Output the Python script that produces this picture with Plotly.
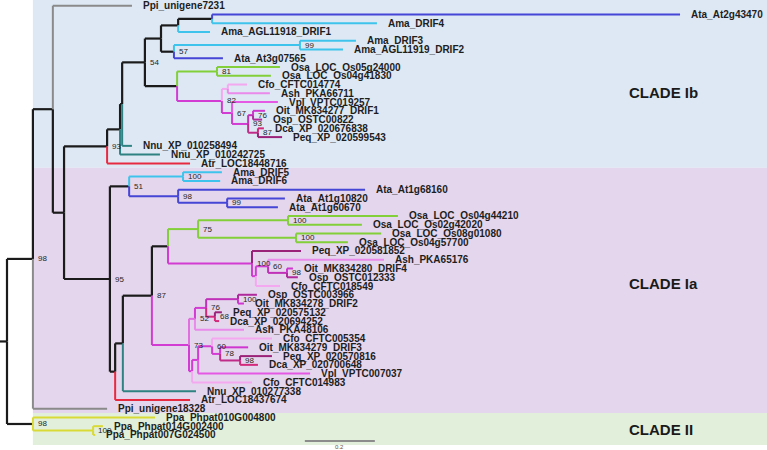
import plotly.graph_objects as go

# ---------------- DATA ----------------
# leaves, top to bottom
leaves = [
    "Ppi_unigene7231", "Ata_At2g43470", "Ama_DRIF4", "Ama_AGL11918_DRIF1", "Ama_DRIF3",
    "Ama_AGL11919_DRIF2", "Ata_At3g07565", "Osa_LOC_Os05g24000", "Osa_LOC_Os04g41830",
    "Cfo_CFTC014774", "Ash_PKA66711", "Vpl_VPTC019257", "Oit_MK834277_DRIF1", "Osp_OSTC00822",
    "Dca_XP_020676838", "Peq_XP_020599543", "Nnu_XP_010258494", "Nnu_XP_010242725",
    "Atr_LOC18448716",
    "Ama_DRIF5", "Ama_DRIF6", "Ata_At1g68160", "Ata_At1g10820", "Ata_At1g60670",
    "Osa_LOC_Os04g44210", "Osa_LOC_Os02g42020", "Osa_LOC_Os08g01080", "Osa_LOC_Os04g57700",
    "Peq_XP_020581852", "Ash_PKA65176", "Oit_MK834280_DRIF4", "Osp_OSTC012333",
    "Cfo_CFTC018549", "Osp_OSTC003966", "Oit_MK834278_DRIF2", "Peq_XP_020575132",
    "Dca_XP_020694252", "Ash_PKA48106", "Cfo_CFTC005354", "Oit_MK834279_DRIF3",
    "Peq_XP_020570816", "Dca_XP_020700648", "Vpl_VPTC007037", "Cfo_CFTC014983",
    "Nnu_XP_010277338", "Atr_LOC18437674", "Ppi_unigene18328",
    "Ppa_Phpat010G004800", "Ppa_Phpat014G002400", "Ppa_Phpat007G024500",
]

# tree: node, parent, cumulative depth from root (substitutions/site)
node_names = [
    "root", "N_main", "N_II", "N_A", "Ppi_unigene18328", "Ppi_unigene7231", "N_B", "N_C", "N_Ia",
    "N_D", "Atr_LOC18448716", "N_E", "Nnu_XP_010242725", "N_F", "Nnu_XP_010258494",
    "N_G", "N_H", "N_I", "N_J", "N_K", "Ama_AGL11918_DRIF1", "Ata_At2g43470", "Ama_DRIF4",
    "N_L", "Ata_At3g07565", "Ama_DRIF3", "Ama_AGL11919_DRIF2", "N_M", "N_N",
    "Osa_LOC_Os05g24000", "Osa_LOC_Os04g41830", "N_O", "N_P", "Cfo_CFTC014774", "Ash_PKA66711",
    "Vpl_VPTC019257", "N_Q", "N_R", "N_S", "Oit_MK834277_DRIF1", "Osp_OSTC00822",
    "Dca_XP_020676838", "Peq_XP_020599543",
    "N_Ama", "N_X", "N_DRIF56", "N_Ata", "Ama_DRIF5", "Ama_DRIF6", "Ata_At1g68160", "N_Ata2",
    "Ata_At1g10820", "Ata_At1g60670", "N_Y", "Atr_LOC18437674", "N_Z", "Nnu_XP_010277338",
    "N_Mono1", "N_Mono2", "N_Osa", "N_Mono1b", "N_Osa1", "N_Osa2", "Osa_LOC_Os04g44210",
    "Osa_LOC_Os02g42020", "Osa_LOC_Os08g01080", "Osa_LOC_Os04g57700", "Peq_XP_020581852",
    "N_T", "N_U", "Cfo_CFTC018549", "Ash_PKA65176", "N_V", "Oit_MK834280_DRIF4",
    "Osp_OSTC012333", "N_52", "N_lower", "N_76", "Ash_PKA48106", "N_100b", "N_68",
    "Osp_OSTC003966", "Oit_MK834278_DRIF2", "Peq_XP_020575132", "Dca_XP_020694252",
    "N_73b", "Cfo_CFTC014983", "N_60", "Vpl_VPTC007037", "Cfo_CFTC005354", "N_78",
    "Oit_MK834279_DRIF3", "N_98", "Peq_XP_020570816", "Dca_XP_020700648",
    "Ppa_Phpat010G004800", "N_Ppa", "Ppa_Phpat014G002400", "Ppa_Phpat007G024500",
]
node_parents = [
    None, "root", "root", "N_main", "N_main", "N_A", "N_A", "N_B", "N_B",
    "N_C", "N_C", "N_D", "N_D", "N_E", "N_E",
    "N_F", "N_F", "N_G", "N_G", "N_I", "N_I", "N_K", "N_K",
    "N_J", "N_J", "N_L", "N_L", "N_H", "N_H",
    "N_M", "N_M", "N_N", "N_N", "N_O", "N_O",
    "N_P", "N_P", "N_Q", "N_Q", "N_R", "N_R",
    "N_S", "N_S",
    "N_Ia", "N_Ia", "N_Ama", "N_Ama", "N_DRIF56", "N_DRIF56", "N_Ata", "N_Ata",
    "N_Ata2", "N_Ata2", "N_X", "N_X", "N_Y", "N_Y",
    "N_Z", "N_Z", "N_Mono1", "N_Mono1", "N_Osa", "N_Osa", "N_Osa1",
    "N_Osa1", "N_Osa2", "N_Osa2", "N_Mono1b",
    "N_Mono1b", "N_T", "N_T", "N_U", "N_U", "N_V",
    "N_V", "N_Mono2", "N_Mono2", "N_52", "N_52", "N_76", "N_76",
    "N_100b", "N_100b", "N_68", "N_68",
    "N_lower", "N_lower", "N_73b", "N_73b", "N_60", "N_60",
    "N_78", "N_78", "N_98", "N_98",
    "N_II", "N_II", "N_Ppa", "N_Ppa",
]
node_depths = [
    0.0, 0.074, 0.074, 0.131, 0.286, 0.357, 0.163, 0.286, 0.294,
    0.323, 0.523, 0.329, 0.437, 0.394, 0.357,
    0.440, 0.486, 0.489, 0.477, 0.586, 0.580, 1.923, 1.057,
    0.837, 0.617, 0.997, 0.960, 0.600, 0.614,
    0.780, 0.754, 0.631, 0.643, 0.686, 0.751,
    0.774, 0.689, 0.703, 0.717, 0.737, 0.729,
    0.734, 0.786,
    0.349, 0.309, 0.503, 0.489, 0.614, 0.609, 1.023, 0.629,
    0.794, 0.774, 0.331, 0.523, 0.414, 0.540,
    0.460, 0.520, 0.546, 0.700, 0.803, 0.826, 1.117,
    1.014, 1.069, 0.974, 0.840,
    0.711, 0.746, 0.780, 1.077, 0.800, 0.817,
    0.831, 0.537, 0.529, 0.569, 0.677, 0.660, 0.594,
    0.714, 0.677, 0.614, 0.606,
    0.546, 0.700, 0.586, 0.866, 0.757, 0.609,
    0.689, 0.666, 0.757, 0.717,
    0.423, 0.246, 0.274, 0.252,
]

support_nodes = ["N_main", "N_C", "N_F", "N_J", "N_L", "N_M", "N_N", "N_P", "N_Q", "N_R", "N_S",
                 "N_Ia", "N_Ama", "N_DRIF56", "N_Ata", "N_Ata2", "N_Z", "N_Osa", "N_Osa1", "N_Osa2",
                 "N_Mono1b", "N_U", "N_V", "N_Mono2", "N_52", "N_76", "N_100b", "N_68", "N_60",
                 "N_78", "N_98", "N_II", "N_Ppa"]
support_values = [98, 93, 54, 57, 99, 81, 82, 67, 93, 76, 87,
                  95, 51, 100, 98, 99, 87, 75, 100, 100,
                  100, 60, 98, 73, 52, 76, 100, 68, 60,
                  78, 98, 98, 100]

clade_names = ["CLADE Ib", "CLADE Ia", "CLADE II"]
clade_first_leaf = ["Ppi_unigene7231", "Ama_DRIF5", "Ppa_Phpat010G004800"]
clade_last_leaf = ["Atr_LOC18448716", "Ppi_unigene18328", "Ppa_Phpat007G024500"]
scale_bar_length = 0.2

# ---------------- STYLE ----------------
SPECIES_COLORS = {
    "Ppi": "#8a8a8a", "Ata": "#4545d6", "Ama": "#3ec4ec", "Osa": "#82cf3a",
    "Cfo": "#f4a8f0", "Ash": "#ea8aea", "Vpl": "#e458e4", "Oit": "#cf36cf",
    "Osp": "#b02a9c", "Dca": "#d42a7c", "Peq": "#9a2278", "Nnu": "#2f8282",
    "Atr": "#e82a40", "Ppa": "#dada36",
}
MAG = "#d23cd2"
INTERNAL_COLORS = {
    "N_L": SPECIES_COLORS["Ama"], "N_DRIF56": SPECIES_COLORS["Ama"],
    "N_Ata": SPECIES_COLORS["Ata"], "N_Ata2": SPECIES_COLORS["Ata"],
    "N_M": SPECIES_COLORS["Osa"], "N_Osa": SPECIES_COLORS["Osa"],
    "N_Osa1": SPECIES_COLORS["Osa"], "N_Osa2": SPECIES_COLORS["Osa"],
    "N_N": MAG, "N_O": SPECIES_COLORS["Cfo"], "N_P": MAG, "N_Q": MAG,
    "N_R": "#c030b8", "N_S": "#c02a88",
    "N_Mono1b": MAG, "N_T": MAG, "N_U": MAG, "N_V": "#c030b8",
    "N_Mono2": MAG, "N_52": "#e070e0", "N_76": MAG, "N_100b": "#c030b8",
    "N_68": SPECIES_COLORS["Dca"], "N_lower": MAG, "N_73b": MAG, "N_60": MAG,
    "N_78": MAG, "N_98": "#c02a88", "N_Ppa": SPECIES_COLORS["Ppa"],
}
BLACK = "#1b1b1b"
TEXT = "#1e1e1e"
FONT = "Arial, Liberation Sans, sans-serif"

# px mapping (767x450 canvas, no margins)
X_MIN, X_MAX = -7 / 350, 760 / 350
Y_TOP, Y_BOT = -5.7 / 8.76, (450 - 5.7) / 8.76

# ---------------- BUILD ----------------
depth = dict(zip(node_names, node_depths))
parent = dict(zip(node_names, node_parents))
children = {}
for n, p in zip(node_names, node_parents):
    if p is not None:
        children.setdefault(p, []).append(n)
leaf_y = {name: i for i, name in enumerate(leaves)}
ypos = {}


def get_y(n):
    if n in ypos:
        return ypos[n]
    if n in leaf_y:
        ypos[n] = leaf_y[n]
    else:
        ys = [get_y(c) for c in children[n]]
        ypos[n] = (min(ys) + max(ys)) / 2
    return ypos[n]


for n in node_names:
    get_y(n)


def color_of(n):
    if n in leaf_y:
        return SPECIES_COLORS[n.split("_")[0]]
    return INTERNAL_COLORS.get(n, BLACK)


segs = {}
for n in node_names:
    p = parent[n]
    if p is None:
        continue
    c = color_of(n)
    xs, ys = segs.setdefault(c, ([], []))
    xs += [depth[p], depth[n], None, depth[p], depth[p], None]
    ys += [ypos[n], ypos[n], None, ypos[p], ypos[n], None]
# root stem
xs, ys = segs.setdefault(BLACK, ([], []))
xs += [X_MIN, depth["root"], None]
ys += [ypos["root"], ypos["root"], None]

fig = go.Figure()
order = [BLACK] + [c for c in segs if c != BLACK]
for c in order:
    xs, ys = segs[c]
    fig.add_trace(go.Scatter(x=xs, y=ys, mode="lines",
                             line=dict(color=c, width=2.2 if c == BLACK else 2),
                             hoverinfo="skip", showlegend=False))

# scale bar
sb_x0 = 0.851
sb_y = (441 - 5.7) / 8.76
fig.add_trace(go.Scatter(x=[sb_x0, sb_x0 + scale_bar_length], y=[sb_y, sb_y], mode="lines",
                         line=dict(color="#8c8c8c", width=2), hoverinfo="skip", showlegend=False))

annotations = []
for leaf in leaves:
    annotations.append(dict(x=depth[leaf], y=ypos[leaf], text=leaf, showarrow=False,
                            xanchor="left", yanchor="middle", xshift=9,
                            font=dict(family=FONT, size=10, color=TEXT, weight="bold")))
for n, v in zip(support_nodes, support_values):
    annotations.append(dict(x=depth[n], y=ypos[n], text=str(v), showarrow=False,
                            xanchor="left", yanchor="middle", xshift=3,
                            font=dict(family=FONT, size=8, color="#262626")))
annotations.append(dict(x=sb_x0 + scale_bar_length / 2, y=(447 - 5.7) / 8.76, text=str(scale_bar_length),
                        showarrow=False, xanchor="center", yanchor="middle",
                        font=dict(family=FONT, size=6, color="#555555")))

band_colors = ["#dde8f4", "#e4d6ec", "#e2efda"]
label_px_y = [92, 283, 429]
shapes = []
for i, (name, a, b) in enumerate(zip(clade_names, clade_first_leaf, clade_last_leaf)):
    y0 = Y_TOP if i == 0 else leaf_y[a] - 0.5
    y1 = leaf_y[b] + (1.15 if i == len(clade_names) - 1 else 0.5)
    shapes.append(dict(type="rect", xref="x", yref="y", x0=depth["N_main"], x1=X_MAX,
                       y0=y0, y1=y1, fillcolor=band_colors[i], line=dict(width=0), layer="below"))
    annotations.append(dict(xref="paper", yref="paper", x=627 / 767, y=1 - label_px_y[i] / 450,
                            text="<b>%s</b>" % name, showarrow=False, xanchor="left", yanchor="middle",
                            font=dict(family=FONT, size=15, color="#1a1a1a")))

fig.update_layout(
    width=767, height=450, margin=dict(l=0, r=0, t=0, b=0),
    paper_bgcolor="white", plot_bgcolor="white",
    xaxis=dict(range=[X_MIN, X_MAX], visible=False, fixedrange=True),
    yaxis=dict(range=[Y_BOT, Y_TOP], visible=False, fixedrange=True),
    shapes=shapes, annotations=annotations, showlegend=False,
)
fig.write_html("out.html", config={"displayModeBar": False},
               post_script="document.body.style.margin='0';document.body.style.overflow='hidden';")
